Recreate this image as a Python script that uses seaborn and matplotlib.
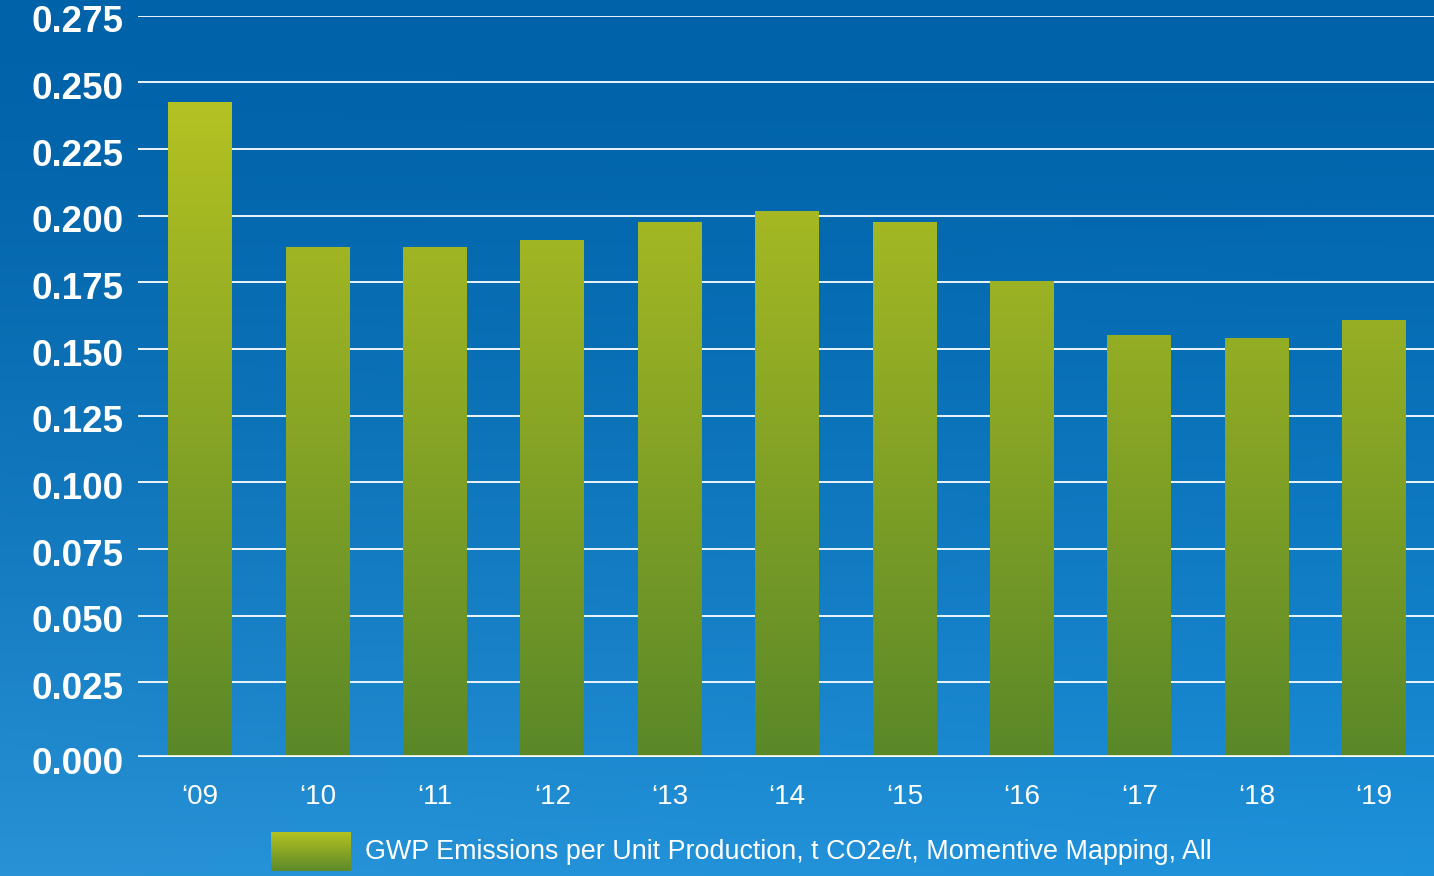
import numpy as np
import pandas as pd
import seaborn as sns
import matplotlib.pyplot as plt
import matplotlib.transforms as mtransforms
from matplotlib.colors import LinearSegmentedColormap

# --- data ---
years = ["‘09", "‘10", "‘11", "‘12", "‘13", "‘14", "‘15", "‘16", "‘17", "‘18", "‘19"]
gwp = [0.2425, 0.1884, 0.1884, 0.1910, 0.1978, 0.2019, 0.1978, 0.1757, 0.1552, 0.1541, 0.1608]
yticks = [0.000, 0.025, 0.050, 0.075, 0.100, 0.125, 0.150, 0.175, 0.200, 0.225, 0.250, 0.275]
legend_label = "GWP Emissions per Unit Production, t CO2e/t, Momentive Mapping, All"

# the original draws its zero baseline a little below the regular grid
floor = -0.0031

sns.set_theme(style="white")
plt.rcParams["font.family"] = ["Liberation Sans", "DejaVu Sans"]

W, H = 1434, 876
fig = plt.figure(figsize=(W / 100, H / 100), dpi=100)

# blue gradient background (darker top, lighter bottom, a bit more cyan to the right)
bg = fig.add_axes([0, 0, 1, 1], zorder=-10)
yy, xx = np.mgrid[0:1:200j, 0:1:200j]
top = np.array([0, 98, 168]) / 255
bottom = np.array([40, 146, 214]) / 255
t = np.clip(yy ** 1.4, 0, 1)[..., None]
rgb = top * (1 - t) + bottom * t
rgb[..., 0] -= 0.04 * xx * yy
rgb[..., 2] += 0.02 * xx * yy
bg.imshow(np.clip(rgb, 0, 1), aspect="auto", extent=[0, 1, 0, 1], origin="upper")
bg.axis("off")

# main axes
ax = fig.add_axes([138 / W, (H - 757.3) / H, 1 - 138 / W, (757.3 - 15.7) / H])
ax.patch.set_alpha(0)

df = pd.DataFrame({"year": years, "gwp": gwp})
sns.barplot(data=df, x="year", y="gwp", ax=ax, width=0.545, color="#8BA52A",
            saturation=1, zorder=3)

# bars reach down to the baseline; green gradient inside each bar
bar_cmap = LinearSegmentedColormap.from_list("bar", ["#5A8828", "#B4C222"])
grad = np.linspace(0, 1, 256).reshape(-1, 1)
for p in ax.patches:
    p.set_height(p.get_height() - floor)
    p.set_y(floor)
    im = ax.imshow(grad, cmap=bar_cmap, origin="lower", aspect="auto",
                   extent=[-1, 11, floor, max(gwp)], zorder=3)
    im.set_clip_path(p)
    p.set_facecolor("none")
    p.set_edgecolor("none")

ax.set_xlim(-0.53, 10.51)
ax.set_ylim(floor, 0.275)
ax.set_yticks([floor] + yticks[1:])
ax.set_yticklabels([f"{v:.3f}" for v in yticks], fontweight="bold", fontsize=26.5, color="white")
ax.tick_params(axis="y", length=0, pad=10.5)
ax.tick_params(axis="x", length=0, pad=19, labelsize=20, labelcolor="white")
shift = mtransforms.ScaledTranslation(0, -3 / 100, fig.dpi_scale_trans)
for lbl in ax.get_yticklabels():
    lbl.set_transform(lbl.get_transform() + shift)
ax.yaxis.grid(True, color="white", lw=1.3)
ax.set_axisbelow(True)
ax.axhline(floor, color="white", lw=2.6, zorder=4)
for s in ax.spines.values():
    s.set_visible(False)
ax.set_xlabel("")
ax.set_ylabel("")

# legend: gradient swatch + label
lax = fig.add_axes([271 / W, (H - 871) / H, 80 / W, 39 / H])
lax.imshow(grad, cmap=LinearSegmentedColormap.from_list("leg", ["#5C8A2A", "#B4C222"]),
           origin="lower", aspect="auto")
lax.axis("off")
fig.text(365 / W, (H - 852) / H, legend_label, color="white", fontsize=19.4, va="center")

fig.savefig("out.png", dpi=100)
